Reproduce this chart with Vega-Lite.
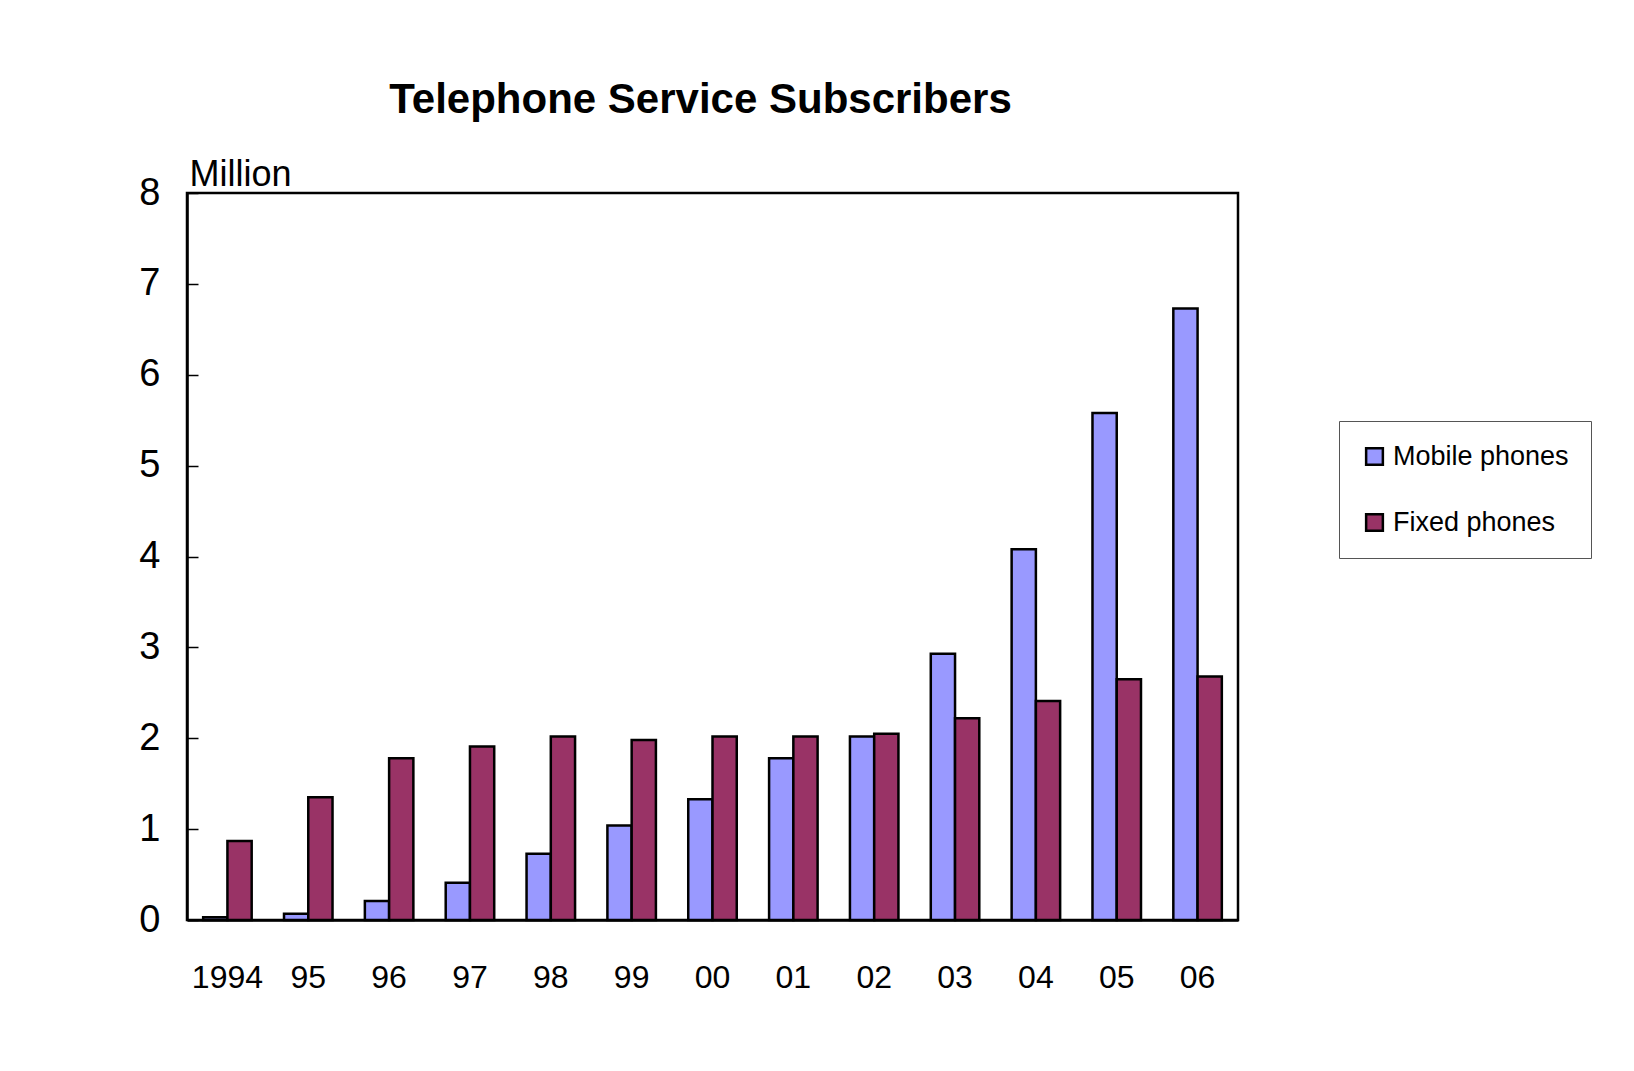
{
  "$schema": "https://vega.github.io/schema/vega-lite/v6.json",
  "width": 1051,
  "height": 727,
  "autosize": {"type": "none"},
  "padding": {"left": 187, "top": 193, "right": 396, "bottom": 151},
  "background": "white",
  "title": {
    "text": "Telephone Service Subscribers",
    "font": "Liberation Sans",
    "fontSize": 42,
    "fontWeight": "bold",
    "color": "black",
    "anchor": "middle",
    "dx": -12,
    "offset": 34
  },
  "data": {
    "values": [
      {"year": "1994", "series": "Mobile phones", "value": 0.03},
      {"year": "1994", "series": "Fixed phones", "value": 0.87},
      {"year": "95", "series": "Mobile phones", "value": 0.07},
      {"year": "95", "series": "Fixed phones", "value": 1.35},
      {"year": "96", "series": "Mobile phones", "value": 0.21},
      {"year": "96", "series": "Fixed phones", "value": 1.78},
      {"year": "97", "series": "Mobile phones", "value": 0.41},
      {"year": "97", "series": "Fixed phones", "value": 1.91},
      {"year": "98", "series": "Mobile phones", "value": 0.73},
      {"year": "98", "series": "Fixed phones", "value": 2.02},
      {"year": "99", "series": "Mobile phones", "value": 1.04},
      {"year": "99", "series": "Fixed phones", "value": 1.98},
      {"year": "00", "series": "Mobile phones", "value": 1.33},
      {"year": "00", "series": "Fixed phones", "value": 2.02},
      {"year": "01", "series": "Mobile phones", "value": 1.78},
      {"year": "01", "series": "Fixed phones", "value": 2.02},
      {"year": "02", "series": "Mobile phones", "value": 2.02},
      {"year": "02", "series": "Fixed phones", "value": 2.05},
      {"year": "03", "series": "Mobile phones", "value": 2.93},
      {"year": "03", "series": "Fixed phones", "value": 2.22},
      {"year": "04", "series": "Mobile phones", "value": 4.08},
      {"year": "04", "series": "Fixed phones", "value": 2.41},
      {"year": "05", "series": "Mobile phones", "value": 5.58},
      {"year": "05", "series": "Fixed phones", "value": 2.65},
      {"year": "06", "series": "Mobile phones", "value": 6.73},
      {"year": "06", "series": "Fixed phones", "value": 2.68}
    ]
  },
  "layer": [
    {
      "mark": {"type": "bar", "stroke": "black", "strokeWidth": 2.5},
      "encoding": {
        "x": {
          "field": "year",
          "type": "nominal",
          "sort": null,
          "scale": {"paddingInner": 0.4, "paddingOuter": 0.2},
          "axis": {
            "title": null,
            "labelAngle": 0,
            "ticks": false,
            "labelFont": "Liberation Sans",
            "labelFontSize": 32,
            "labelColor": "black",
            "labelPadding": 42,
            "domainColor": "black",
            "domainWidth": 2.5
          }
        },
        "xOffset": {"field": "series", "type": "nominal", "sort": ["Mobile phones", "Fixed phones"]},
        "y": {
          "field": "value",
          "type": "quantitative",
          "scale": {"domain": [0, 8], "nice": false},
          "axis": {
            "title": "Million",
            "titleAngle": 0,
            "titleAlign": "left",
            "titleBaseline": "alphabetic",
            "titleX": 2,
            "titleY": -8,
            "titleFont": "Liberation Sans",
            "titleFontSize": 36,
            "titleFontWeight": "normal",
            "titleColor": "black",
            "values": [0, 1, 2, 3, 4, 5, 6, 7, 8],
            "grid": false,
            "ticks": false,
            "labelFont": "Liberation Sans",
            "labelFontSize": 38,
            "labelColor": "black",
            "labelPadding": 27,
            "domainColor": "black",
            "domainWidth": 2.5
          }
        },
        "color": {
          "field": "series",
          "type": "nominal",
          "sort": ["Mobile phones", "Fixed phones"],
          "scale": {"domain": ["Mobile phones", "Fixed phones"], "range": ["#9999ff", "#993366"]},
          "legend": {
            "title": null,
            "orient": "none",
            "legendX": 1152,
            "legendY": 228,
            "padding": 22,
            "strokeColor": "#555555",
            "fillColor": "white",
            "symbolType": "square",
            "symbolSize": 280,
            "symbolStrokeColor": "black",
            "symbolStrokeWidth": 2.5,
            "symbolOpacity": 1,
            "labelFont": "Liberation Sans",
            "labelFontSize": 27,
            "labelColor": "black",
            "labelOffset": 5,
            "rowPadding": 38,
            "labelLimit": 400
          }
        }
      }
    },
    {
      "mark": {"type": "rule", "opacity": 0},
      "encoding": {
        "y": {
          "field": "value",
          "type": "quantitative",
          "scale": {"domain": [0, 8], "nice": false},
          "axis": {
            "orient": "right",
            "offset": -1051,
            "title": null,
            "labels": false,
            "domain": false,
            "grid": false,
            "values": [0, 1, 2, 3, 4, 5, 6, 7, 8],
            "tickSize": 11,
            "tickColor": "black",
            "tickWidth": 1.5
          }
        }
      }
    }
  ],
  "resolve": {"axis": {"y": "independent"}},
  "config": {
    "view": {"stroke": "black", "strokeWidth": 2.5}
  }
}
